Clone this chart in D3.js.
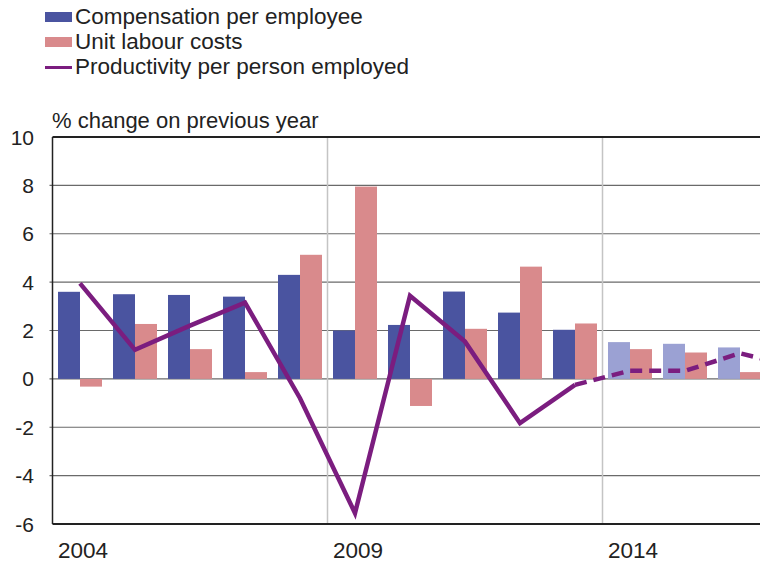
<!DOCTYPE html>
<html><head><meta charset="utf-8">
<script src="https://cdn.jsdelivr.net/npm/d3@7"></script>
<style>body{margin:0;background:#fff;overflow:hidden}svg{display:block;font-family:"Liberation Sans",Arial,sans-serif}</style>
</head><body><svg id="c" width="760" height="562"></svg>
<script>
const years = ["2004","2005","2006","2007","2008","2009","2010","2011","2012","2013","2014","2015","2016","2017"];
const compensation = [3.6,3.5,3.47,3.4,4.3,2.0,2.23,3.61,2.74,2.03,1.52,1.45,1.3,null];
const unitLabourCosts = [-0.32,2.27,1.23,0.28,5.13,7.95,-1.12,2.07,4.64,2.29,1.23,1.09,0.28,null];
const productivity = [3.95,1.2,2.2,3.15,-0.8,-5.55,3.44,1.54,-1.83,-0.25,0.34,0.33,1.06,0.5];
const forecastFrom = "2014";
const yTicks = [-6,-4,-2,0,2,4,6,8,10];
const xLabels = ["2004","2009","2014"];
const seriesNames = ["Compensation per employee","Unit labour costs","Productivity per person employed"];

(function(){
const svg = d3.select("#c");
const pLeft = 52.5, pTop = 137, pBottom = 524;
const x = d3.scaleBand().domain(years).range([pLeft, pLeft + 55*years.length]).paddingInner(0).paddingOuter(0);
const y = d3.scaleLinear().domain([-6,10]).range([pBottom, pTop]);
const bw = 22;
const cx = d => x(d) + x.bandwidth()/2;
const fIdx = years.indexOf(forecastFrom);

const colComp = "#4a54a0", colCompF = "#9ba1d3", colULC = "#d98a8c", colLine = "#7b1d7f";

svg.append("g").selectAll("line").data(yTicks.filter(t=>t>-6 && t<10)).join("line")
  .attr("x1", pLeft-3).attr("x2", 760).attr("y1", d=>y(d)).attr("y2", d=>y(d))
  .attr("stroke", "#6a6a6a").attr("stroke-width", 1.2);
svg.append("g").selectAll("line").data(xLabels.slice(1)).join("line")
  .attr("x1", d=>x(d)).attr("x2", d=>x(d)).attr("y1", pTop).attr("y2", pBottom)
  .attr("stroke", "#c4c4c4").attr("stroke-width", 1.5);

const gb = svg.append("g");
years.forEach((yr,i)=>{
  if (compensation[i] != null) {
    const v = compensation[i];
    gb.append("rect").attr("x", cx(yr)-bw).attr("width", bw)
      .attr("y", y(Math.max(0,v))).attr("height", Math.abs(y(v)-y(0)))
      .attr("fill", i>=fIdx ? colCompF : colComp);
  }
  if (unitLabourCosts[i] != null) {
    const v = unitLabourCosts[i];
    gb.append("rect").attr("x", cx(yr)).attr("width", bw)
      .attr("y", y(Math.max(0,v))).attr("height", Math.abs(y(v)-y(0)))
      .attr("fill", colULC);
  }
});

const pts = years.map((yr,i)=>[cx(yr), y(productivity[i])]);
const line = d3.line();
svg.append("path").attr("d", line(pts.slice(0, fIdx))).attr("fill","none")
  .attr("stroke", colLine).attr("stroke-width", 4.5).attr("stroke-linejoin","miter");
svg.append("path").attr("d", line(pts.slice(fIdx-1))).attr("fill","none")
  .attr("stroke", colLine).attr("stroke-width", 4.5).attr("stroke-dasharray","12,7");

svg.append("line").attr("x1", pLeft).attr("x2", 760).attr("y1", pTop).attr("y2", pTop).attr("stroke","#222").attr("stroke-width",2);
svg.append("line").attr("x1", pLeft).attr("x2", 760).attr("y1", pBottom).attr("y2", pBottom).attr("stroke","#222").attr("stroke-width",2);
svg.append("line").attr("x1", pLeft).attr("x2", pLeft).attr("y1", pTop).attr("y2", pBottom).attr("stroke","#222").attr("stroke-width",1.5);

svg.append("g").selectAll("text").data(yTicks).join("text")
  .attr("x", 34).attr("y", d=>y(d)+7.5).attr("text-anchor","end")
  .attr("font-size", 21).attr("fill","#222").text(d=>d);
svg.append("g").selectAll("text").data(xLabels).join("text")
  .attr("x", d=>cx(d)+3).attr("y", 558).attr("text-anchor","middle")
  .attr("font-size", 22.5).attr("fill","#222").text(d=>d);
svg.append("text").attr("x", 52).attr("y", 128).attr("font-size", 22).attr("fill","#222").text("% change on previous year");

const lg = svg.append("g");
[0,1,2].forEach(i=>{
  const yy = 24 + i*25;
  if (i<2) lg.append("rect").attr("x",45).attr("y",yy-12).attr("width",27).attr("height",10).attr("fill", i===0?colComp:colULC);
  else lg.append("line").attr("x1",45).attr("x2",72).attr("y1",yy-6.5).attr("y2",yy-6.5).attr("stroke",colLine).attr("stroke-width",3);
  lg.append("text").attr("x",75).attr("y",yy).attr("font-size",22.5).attr("fill","#222").text(seriesNames[i]);
});
})();
</script></body></html>
